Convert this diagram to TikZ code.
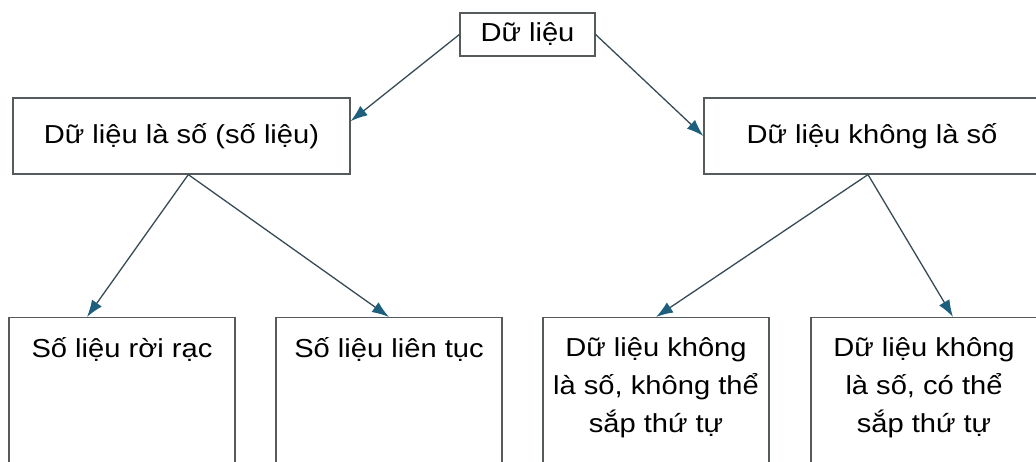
\documentclass[tikz,border=0pt]{standalone}
\usepackage{fontspec}
\setmainfont[FakeStretch=1.12]{Liberation Sans}
\usetikzlibrary{arrows.meta}
\definecolor{boxgrey}{RGB}{85,90,92}
\definecolor{linkgrey}{RGB}{55,75,85}
\definecolor{tipteal}{RGB}{30,95,125}

\begin{document}
\begin{tikzpicture}
[x=1pt,y=-1pt,every node/.style={font=\fontsize{26}{38}\selectfont},box/.style={draw=boxgrey,line width=1.2pt,rectangle,inner sep=0pt},leafbox/.style={box,anchor=north,minimum width=226pt,minimum height=170pt,inner ysep=16pt},link/.style={draw=linkgrey,line width=1.3pt,-{Latex[length=17pt,width=12pt,color=tipteal]}}]
\useasboundingbox (0,0) rectangle (1036,462);
\clip (0,0) rectangle (1036,462);
\node[box,minimum width=135pt,minimum height=43pt](data) at (527.5,34.5){Dữ liệu};
\node[box,minimum width=337pt,minimum height=76pt](numeric) at (181.5,136){Dữ liệu là số (số liệu)};
\node[box,minimum width=336pt,minimum height=76pt](nonnumeric) at (872,136){Dữ liệu không là số};
\node[leafbox](discrete) at (122,317){\parbox[t][130pt][t]{220pt}{\centering Số liệu rời rạc}};
\node[leafbox](continuous) at (389,317){\parbox[t][130pt][t]{220pt}{\centering Số liệu liên tục}};
\node[leafbox](unordered) at (656,317){\parbox[t][130pt][t]{220pt}{\centering Dữ liệu không\\là số, không thể\\sắp thứ tự}};
\node[leafbox](ordered) at (924,317){\parbox[t][130pt][t]{220pt}{\centering Dữ liệu không\\là số, có thể\\sắp thứ tự}};
\draw[link](data.west)--(numeric.5);
\draw[link](data.east)--(nonnumeric.west);
\draw[link](numeric.-80)--([xshift=-35pt]discrete.north);
\draw[link](numeric.-80)--(continuous.north);
\draw[link]([xshift=-4pt]nonnumeric.south)--(unordered.north);
\draw[link]([xshift=-4pt]nonnumeric.south)--([xshift=29pt]ordered.north);
\end{tikzpicture}
\end{document}
